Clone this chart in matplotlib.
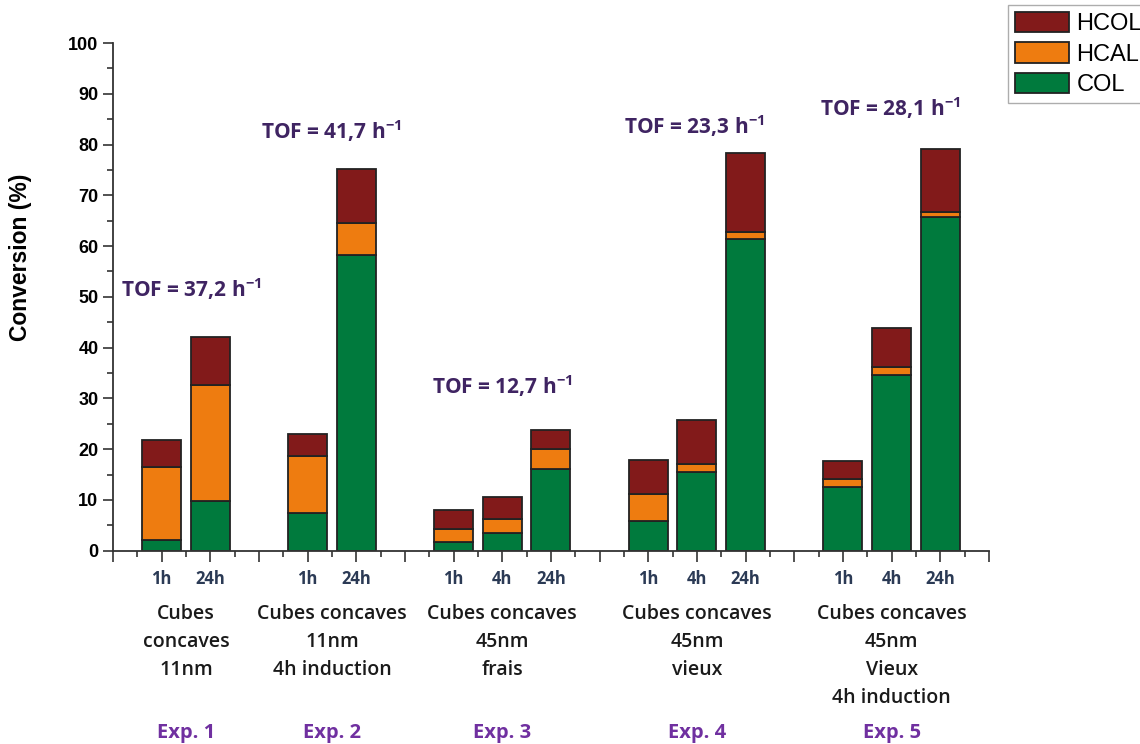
import numpy as np
import matplotlib
matplotlib.use("Agg")
import matplotlib.pyplot as plt
from matplotlib.ticker import MultipleLocator

# bar positions on the category axis and their time labels
positions = [1, 2, 4, 5, 7, 8, 9, 11, 12, 13, 15, 16, 17]
times = ["1h", "24h", "1h", "24h", "1h", "4h", "24h",
         "1h", "4h", "24h", "1h", "4h", "24h"]

# stacked components (%)
col = [2.2, 9.8, 7.5, 58.2, 1.8, 3.4, 16.1, 5.9, 15.5, 61.4, 12.6, 34.6, 65.7]
hcal = [14.2, 22.9, 11.1, 6.4, 2.5, 2.9, 4.0, 5.3, 1.5, 1.4, 1.5, 1.6, 1.1]
hcol = [5.5, 9.4, 4.4, 10.6, 3.7, 4.3, 3.7, 6.7, 8.8, 15.6, 3.6, 7.6, 12.4]

# experiment annotations
exp_centers = [1.5, 4.5, 8, 12, 16]
exp_names = ["Exp. 1", "Exp. 2", "Exp. 3", "Exp. 4", "Exp. 5"]
exp_desc = [["Cubes", "concaves", "11nm"],
            ["Cubes concaves", "11nm", "4h induction"],
            ["Cubes concaves", "45nm", "frais"],
            ["Cubes concaves", "45nm", "vieux"],
            ["Cubes concaves", "45nm", "Vieux", "4h induction"]]
tof_values = ["37,2", "41,7", "12,7", "23,3", "28,1"]
tof_x = [1.6, 4.48, 8.0, 11.95, 15.97]
tof_y = [51.6, 82.6, 32.5, 83.6, 87.1]

c_col = "#007A3D"
c_hcal = "#EE7C10"
c_hcol = "#821A1A"

plt.rcParams["mathtext.fontset"] = "custom"
plt.rcParams["mathtext.bf"] = "Open Sans:bold"
plt.rcParams["mathtext.rm"] = "Open Sans"

fig = plt.figure(figsize=(11.4, 7.44), dpi=100)
ax = fig.add_axes([0.0991, 0.2598, 0.7684, 0.6824])

col = np.array(col)
hcal = np.array(hcal)
hcol = np.array(hcol)
kw = dict(width=0.8, edgecolor="#222222", linewidth=1.3)
b1 = ax.bar(positions, col, color=c_col, label="COL", **kw)
b2 = ax.bar(positions, hcal, bottom=col, color=c_hcal, label="HCAL", **kw)
b3 = ax.bar(positions, hcol, bottom=col + hcal, color=c_hcol, label="HCOL", **kw)

ax.set_xlim(0, 18)
ax.set_ylim(0, 100)
for s in ["top", "right"]:
    ax.spines[s].set_visible(False)
for s in ["left", "bottom"]:
    ax.spines[s].set_linewidth(1.3)
    ax.spines[s].set_color("#333333")

ax.yaxis.set_major_locator(MultipleLocator(10))
ax.yaxis.set_minor_locator(MultipleLocator(5))
ax.tick_params(axis="y", which="major", length=7, width=1.2, labelsize=13,
               color="#333333")
ax.tick_params(axis="y", which="minor", length=4, width=1.2, color="#333333")
for lab in ax.get_yticklabels():
    lab.set_fontfamily("Liberation Sans")
    lab.set_fontweight("bold")

xt = list(range(0, 19))
xl = []
for t in xt:
    xl.append(times[positions.index(t)] if t in positions else "")
ax.set_xticks(xt)
ax.set_xticklabels(xl, fontfamily="Open Sans", fontweight="bold",
                   fontsize=12, color="#2B3A55")
ax.xaxis.set_minor_locator(MultipleLocator(0.5))
ax.tick_params(axis="x", which="major", length=8, width=1.2, pad=6,
               color="#333333")
ax.tick_params(axis="x", which="minor", length=4, width=1.2, color="#333333")

ax.set_ylabel("Conversion (%)", fontfamily="Liberation Sans",
              fontweight="bold", fontsize=16.5)
ax.yaxis.set_label_coords(-0.0925, 0.577)

# descriptions below the axis
trans = ax.get_xaxis_transform()
px = 1.0 / (0.6824 * 744)
for xc, lines, name in zip(exp_centers, exp_desc, exp_names):
    for i, line in enumerate(lines):
        y = -(614 - 550.7 + i * 28) * px
        ax.text(xc, y, line, transform=trans, ha="center", va="center",
                fontfamily="Open Sans", fontweight="semibold", fontsize=14,
                color="#1a1a1a")
    ax.text(xc, -(733 - 550.7) * px, name, transform=trans, ha="center",
            va="center", fontfamily="Open Sans", fontweight="bold",
            fontsize=14.5, color="#7030A0")

for xv, yv, tv in zip(tof_x, tof_y, tof_values):
    ax.text(xv, yv, "TOF = " + tv + r" h$^{\mathbf{-1}}$", ha="center",
            va="center", fontfamily="Open Sans", fontweight="bold",
            fontsize=15, color="#3F2462")

leg = fig.legend([b3, b2, b1], ["HCOL", "HCAL", "COL"],
                 loc="upper left", bbox_to_anchor=(1008 / 1140, 1 - 5 / 744),
                 prop={"family": "Liberation Sans", "size": 17},
                 fancybox=False, edgecolor="#999999", handlelength=2.3,
                 handleheight=0.95, labelspacing=0.3, borderpad=0.3,
                 handletextpad=0.3, borderaxespad=0)
leg.get_frame().set_linewidth(1.0)

fig.savefig("out.png", dpi=100)
